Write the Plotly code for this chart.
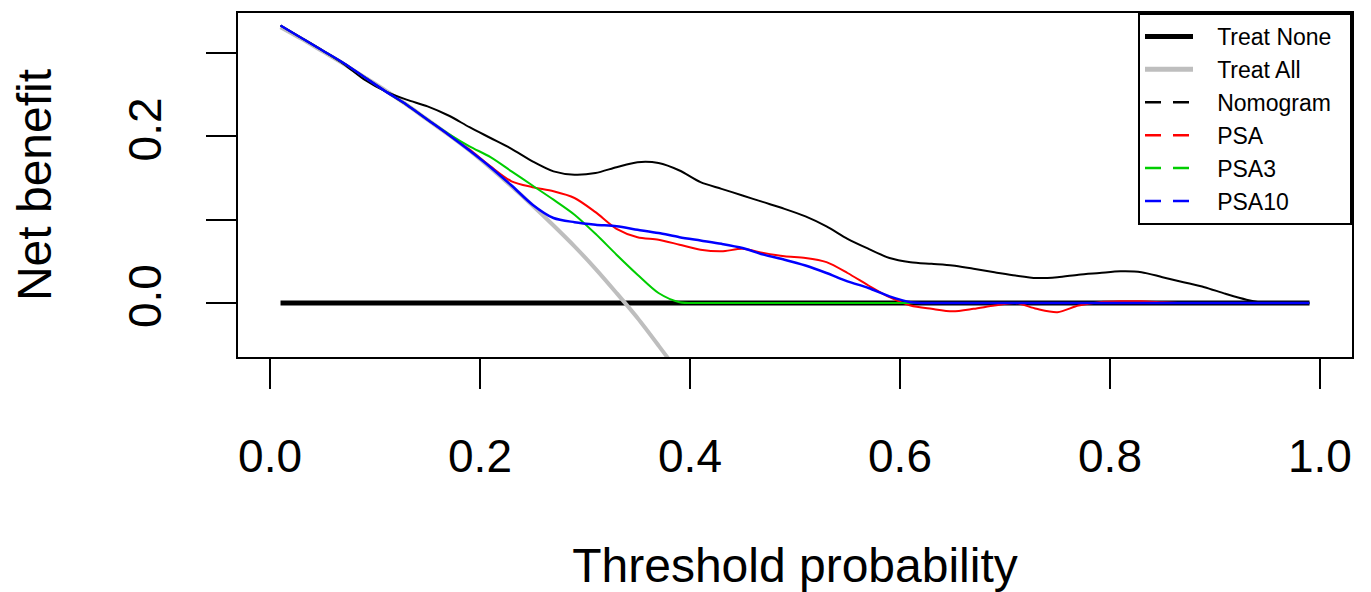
import plotly.graph_objects as go

thresholds = [0.01, 0.03, 0.05, 0.07, 0.09, 0.11, 0.13, 0.15, 0.17, 0.19,
              0.21, 0.23, 0.25, 0.27, 0.29, 0.31, 0.33, 0.35, 0.37, 0.39,
              0.41, 0.43, 0.45, 0.47, 0.49, 0.51, 0.53, 0.55, 0.57, 0.59,
              0.61, 0.63, 0.65, 0.67, 0.69, 0.71, 0.73, 0.75, 0.77, 0.79,
              0.81, 0.83, 0.85, 0.87, 0.89, 0.91, 0.93, 0.95, 0.97, 0.99]

treat_none = [0.0] * len(thresholds)

treat_all_x = [0.01, 0.03, 0.05, 0.07, 0.09, 0.11, 0.13, 0.15, 0.17, 0.19,
               0.21, 0.23, 0.25, 0.27, 0.29, 0.31, 0.33, 0.35, 0.37, 0.39, 0.41]
treat_all = [0.331, 0.317, 0.302, 0.287, 0.271, 0.255, 0.238, 0.220, 0.202, 0.183,
             0.162, 0.140, 0.117, 0.093, 0.068, 0.041, 0.012, -0.018, -0.051, -0.085, -0.122]

nomogram = [0.333, 0.318, 0.303, 0.287, 0.268, 0.254, 0.244, 0.236, 0.225, 0.211,
            0.198, 0.185, 0.170, 0.158, 0.154, 0.156, 0.163, 0.169, 0.168, 0.159,
            0.145, 0.137, 0.129, 0.121, 0.113, 0.104, 0.092, 0.077, 0.065, 0.054,
            0.049, 0.047, 0.045, 0.041, 0.037, 0.033, 0.030, 0.031, 0.034, 0.036,
            0.038, 0.037, 0.031, 0.025, 0.019, 0.011, 0.004, 0.000, 0.000, 0.000]

psa = [0.333, 0.318, 0.303, 0.288, 0.271, 0.254, 0.238, 0.220, 0.202, 0.184,
       0.164, 0.146, 0.139, 0.134, 0.126, 0.109, 0.089, 0.079, 0.076, 0.070,
       0.064, 0.062, 0.065, 0.060, 0.056, 0.054, 0.049, 0.036, 0.021, 0.007,
       -0.003, -0.007, -0.010, -0.007, -0.003, 0.000, -0.007, -0.011, -0.003, 0.001,
       0.002, 0.002, 0.001, 0.000, 0.000, 0.000, 0.000, 0.000, 0.000, 0.000]

psa3 = [0.333, 0.318, 0.303, 0.288, 0.271, 0.254, 0.238, 0.220, 0.203, 0.188,
        0.175, 0.158, 0.141, 0.124, 0.106, 0.083, 0.058, 0.034, 0.012, 0.001,
        0.000, 0.000, 0.000, 0.000, 0.000, 0.000, 0.000, 0.000, 0.000, 0.000,
        0.000, 0.000, 0.000, 0.000, 0.000, 0.000, 0.000, 0.000, 0.000, 0.000,
        0.000, 0.000, 0.000, 0.000, 0.000, 0.000, 0.000, 0.000, 0.000, 0.000]

psa10 = [0.333, 0.318, 0.303, 0.288, 0.271, 0.254, 0.238, 0.220, 0.202, 0.183,
         0.163, 0.141, 0.118, 0.102, 0.097, 0.094, 0.092, 0.088, 0.084, 0.079,
         0.075, 0.071, 0.066, 0.058, 0.052, 0.045, 0.036, 0.026, 0.018, 0.008,
         0.001, 0.000, 0.000, 0.000, 0.000, 0.000, 0.000, 0.000, 0.000, 0.000,
         0.000, 0.000, 0.000, 0.000, 0.000, 0.000, 0.000, 0.000, 0.000, 0.000]

x_ticks = [0.0, 0.2, 0.4, 0.6, 0.8, 1.0]
x_ticktext = ["0.0", "0.2", "0.4", "0.6", "0.8", "1.0"]
y_ticks = [0.0, 0.1, 0.2, 0.3]
y_ticktext = ["0.0", "", "0.2", ""]

FONT = "Liberation Sans, Arial, sans-serif"
NB = "\u00a0"

fig = go.Figure()

# plotted curves (solid)
fig.add_trace(go.Scatter(x=thresholds, y=treat_none, mode="lines",
                         line=dict(color="black", width=5), showlegend=False))
fig.add_trace(go.Scatter(x=treat_all_x, y=treat_all, mode="lines",
                         line=dict(color="#bebebe", width=4, shape="spline", smoothing=0.8),
                         showlegend=False))
fig.add_trace(go.Scatter(x=thresholds, y=nomogram, mode="lines",
                         line=dict(color="black", width=2, shape="spline", smoothing=0.8),
                         showlegend=False))
fig.add_trace(go.Scatter(x=thresholds, y=psa, mode="lines",
                         line=dict(color="#ff0000", width=2, shape="spline", smoothing=0.8),
                         showlegend=False))
fig.add_trace(go.Scatter(x=thresholds, y=psa3, mode="lines",
                         line=dict(color="#00cd00", width=2, shape="spline", smoothing=0.8),
                         showlegend=False))
fig.add_trace(go.Scatter(x=thresholds, y=psa10, mode="lines",
                         line=dict(color="#0000ff", width=2.5, shape="spline", smoothing=0.8),
                         showlegend=False))

# legend entries (as drawn in the reference legend)
legend_items = [("Treat None", "black", 5, "solid"),
                ("Treat All", "#bebebe", 5, "solid"),
                ("Nomogram", "black", 2.5, "16px,12px"),
                ("PSA", "#ff0000", 2.5, "16px,12px"),
                ("PSA3", "#00cd00", 2.5, "16px,12px"),
                ("PSA10", "#0000ff", 2.5, "16px,12px")]
for name, col, w, dash in legend_items:
    fig.add_trace(go.Scatter(x=[None], y=[None], mode="lines",
                             name=NB * 3 + name + NB * 2,
                             line=dict(color=col, width=w, dash=dash)))

# the page body has an 8px margin, so the figure is sized to fit the window
fig.update_layout(
    width=1363, height=584,
    margin=dict(l=230, r=19, t=5, b=235, autoexpand=False),
    paper_bgcolor="white", plot_bgcolor="white",
    font=dict(family=FONT, color="black"),
    showlegend=True,
    legend=dict(x=1.0, y=1.0, xanchor="right", yanchor="top",
                bgcolor="white", bordercolor="black", borderwidth=2,
                font=dict(size=23, family=FONT, color="black"),
                tracegroupgap=0, itemwidth=48),
)

fig.update_xaxes(range=[-0.0305, 1.0305], showgrid=False, zeroline=False, automargin=False,
                 showline=True, linecolor="black", linewidth=2, mirror=True,
                 ticks="outside", ticklen=30, tickwidth=2, tickcolor="black",
                 tickvals=x_ticks, ticktext=x_ticktext,
                 tickfont=dict(size=46, family=FONT, color="black"),
                 ticklabelstandoff=28,
                 title=dict(text="Threshold probability", standoff=70,
                            font=dict(size=48, family=FONT, color="black")))
fig.update_yaxes(range=[-0.0648, 0.348], showgrid=False, zeroline=False, automargin=False,
                 showline=True, linecolor="black", linewidth=2, mirror=True,
                 ticks="outside", ticklen=30, tickwidth=2, tickcolor="black",
                 tickvals=y_ticks, ticktext=y_ticktext, tickangle=-90,
                 tickfont=dict(size=46, family=FONT, color="black"),
                 ticklabelstandoff=27,
                 title=dict(text="Net benefit", standoff=52,
                            font=dict(size=48, family=FONT, color="black")))

fig.write_html("out.html")
